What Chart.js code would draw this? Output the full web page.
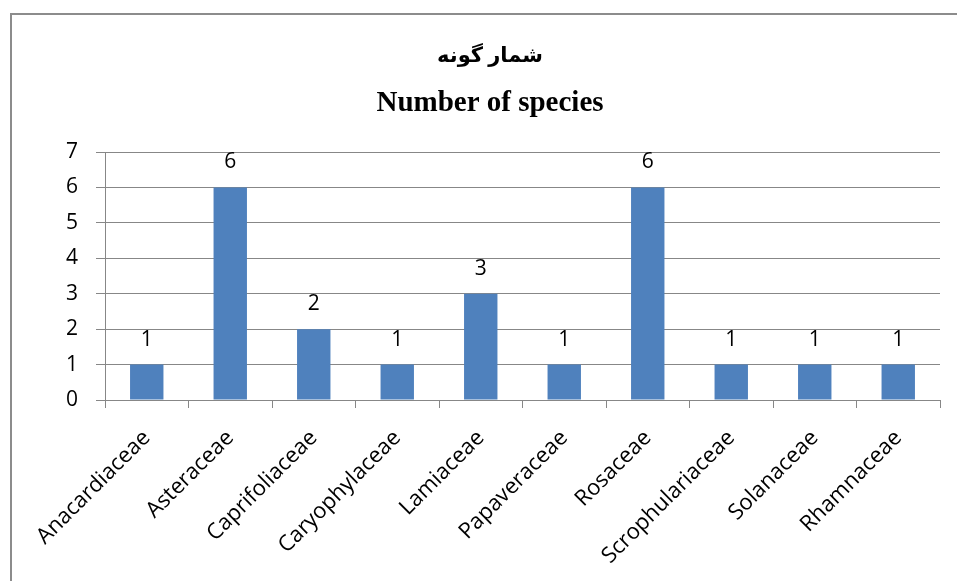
<!DOCTYPE html>
<html>
<head>
<meta charset="utf-8">
<script src="https://cdn.jsdelivr.net/npm/chart.js@4.4.0/dist/chart.umd.min.js"></script>
<style>
  html, body { margin: 0; padding: 0; background: #fff; overflow: hidden; width: 957px; height: 581px; }
  #frame { position: absolute; left: 10px; top: 13px; width: 1200px; height: 1200px; border: 2px solid #8c8c8c; box-sizing: border-box; }
  canvas { position: absolute; left: 0; top: 0; }
</style>
</head>
<body>
<div id="frame"></div>
<canvas id="c" width="957" height="581"></canvas>
<script>
const categories = ["Anacardiaceae", "Asteraceae", "Caprifoliaceae", "Caryophylaceae", "Lamiaceae", "Papaveraceae", "Rosaceae", "Scrophulariaceae", "Solanaceae", "Rhamnaceae"];
const speciesCounts = [1, 6, 2, 1, 3, 1, 6, 1, 1, 1];
const yTickValues = [0, 1, 2, 3, 4, 5, 6, 7];
const titleFa = "شمار گونه";
const titleEn = "Number of species";

const labelFont = "'Open Sans', 'DejaVu Sans', sans-serif";
const gridColor = '#878787';

const valueLabels = {
  id: 'valueLabels',
  afterDatasetsDraw(chart) {
    const ctx = chart.ctx;
    const meta = chart.getDatasetMeta(0);
    ctx.save();
    ctx.fillStyle = '#000';
    ctx.font = "21px " + labelFont;
    ctx.textAlign = 'center';
    ctx.textBaseline = 'middle';
    meta.data.forEach((el, i) => {
      ctx.fillText(String(speciesCounts[i]), el.x, el.y - 25);
    });
    ctx.restore();
  }
};

new Chart(document.getElementById('c'), {
  type: 'bar',
  data: {
    labels: categories,
    datasets: [{
      data: speciesCounts,
      backgroundColor: '#4F81BD',
      borderWidth: 0,
      barPercentage: 0.4,
      categoryPercentage: 1.0
    }]
  },
  options: {
    responsive: false,
    animation: false,
    layout: { padding: { left: 40, right: 17, top: 0, bottom: 0 } },
    plugins: {
      legend: { display: false },
      tooltip: { enabled: false },
      title: {
        display: true,
        text: titleFa,
        color: '#000',
        font: { family: "'Liberation Serif', 'DejaVu Sans', serif", size: 21, weight: 'bold', lineHeight: 1.2 },
        padding: { top: 44, bottom: 17 }
      },
      subtitle: {
        display: true,
        text: titleEn,
        color: '#000',
        font: { family: "'Liberation Serif', serif", size: 29, weight: 'bold', lineHeight: 1.2 },
        padding: { top: 0, bottom: 31 }
      }
    },
    scales: {
      x: {
        grid: { display: true, drawOnChartArea: false, offset: true, tickLength: 8, color: gridColor, lineWidth: 1 },
        border: { display: true, color: gridColor, width: 1 },
        ticks: {
          autoSkip: false, maxRotation: 45, minRotation: 45, padding: 17,
          color: '#000', font: { family: labelFont, size: 22 }
        },
        afterFit(scale) { scale.height = 181; }
      },
      y: {
        min: 0, max: 7,
        afterBuildTicks(scale) { scale.ticks = yTickValues.map(v => ({ value: v })); },
        grid: { color: gridColor, lineWidth: 1, tickLength: 9 },
        border: { display: true, color: gridColor, width: 1 },
        ticks: { padding: 18, color: '#000', font: { family: labelFont, size: 21 } },
        afterFit(scale) { scale.width = 65; }
      }
    }
  },
  plugins: [valueLabels]
});
</script>
</body>
</html>
